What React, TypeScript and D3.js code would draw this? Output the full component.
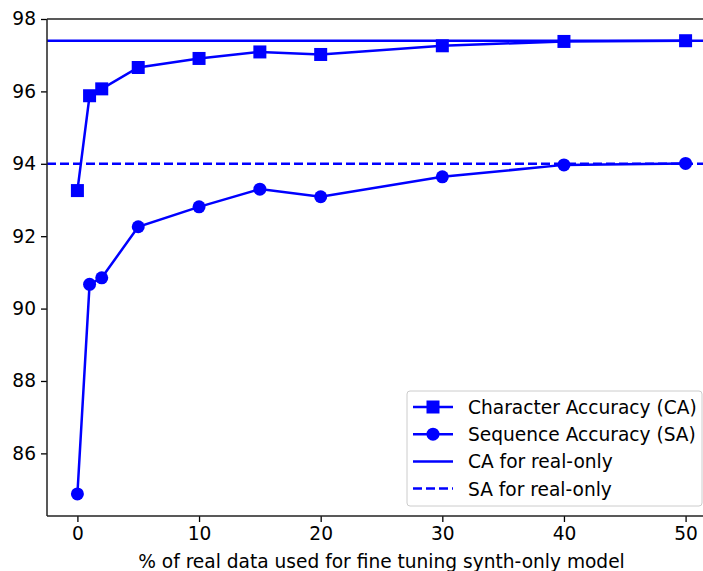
import React, { useEffect, useRef } from 'react';
import * as d3 from 'd3';

const xValues = [0, 1, 2, 5, 10, 15, 20, 30, 40, 50];
const caValues = [93.26, 95.88, 96.07, 96.66, 96.91, 97.09, 97.02, 97.26, 97.38, 97.4];
const saValues = [84.88, 90.67, 90.85, 92.26, 92.81, 93.3, 93.09, 93.64, 93.97, 94.01];
const caRealOnly = 97.4;
const saRealOnly = 94.0;
const xTicks = [0, 10, 20, 30, 40, 50];
const yTicks = [86, 88, 90, 92, 94, 96, 98];
const legendLabels = [
  'Character Accuracy (CA)',
  'Sequence Accuracy (SA)',
  'CA for real-only',
  'SA for real-only',
];

const App = () => {
  const svgRef = useRef<SVGSVGElement>(null);

  useEffect(() => {
    const width = 703;
    const height = 571;
    const margin = { top: 19, right: -13, bottom: 55, left: 47 };
    const blue = '#0000ff';
    const font = 'DejaVu Sans, sans-serif';
    const fs = 18.6;

    const root = d3.select(svgRef.current);
    root.selectAll('*').remove();
    root.attr('width', width).attr('height', height);

    const innerW = width - margin.left - margin.right;
    const innerH = height - margin.top - margin.bottom;

    const x = d3.scaleLinear().domain([-2.5, 52.5]).range([0, innerW]);
    const y = d3.scaleLinear().domain([84.27, 98]).range([innerH, 0]);

    const svg = root.append('g').attr('transform', `translate(${margin.left},${margin.top})`);

    // reference lines
    svg.append('line')
      .attr('x1', 0).attr('x2', innerW)
      .attr('y1', y(caRealOnly)).attr('y2', y(caRealOnly))
      .attr('stroke', blue).attr('stroke-width', 2.5);
    svg.append('line')
      .attr('x1', 0).attr('x2', innerW)
      .attr('y1', y(saRealOnly)).attr('y2', y(saRealOnly))
      .attr('stroke', blue).attr('stroke-width', 2.5)
      .attr('stroke-dasharray', '9,4');

    const line = d3.line<number>()
      .x((_, i) => x(xValues[i]))
      .y(d => y(d));

    // CA series
    svg.append('path')
      .attr('d', line(caValues))
      .attr('fill', 'none').attr('stroke', blue).attr('stroke-width', 2.5);
    svg.append('g')
      .selectAll('rect')
      .data(caValues)
      .enter()
      .append('rect')
      .attr('x', (_, i) => x(xValues[i]) - 6.5)
      .attr('y', d => y(d) - 6.5)
      .attr('width', 13).attr('height', 13)
      .attr('fill', blue);

    // SA series
    svg.append('path')
      .attr('d', line(saValues))
      .attr('fill', 'none').attr('stroke', blue).attr('stroke-width', 2.5);
    svg.append('g')
      .selectAll('circle')
      .data(saValues)
      .enter()
      .append('circle')
      .attr('cx', (_, i) => x(xValues[i]))
      .attr('cy', d => y(d))
      .attr('r', 6.5)
      .attr('fill', blue);

    // axes
    const xAxis = svg.append('g')
      .attr('transform', `translate(0,${innerH})`)
      .call(d3.axisBottom(x).tickValues(xTicks).tickSize(6).tickPadding(5));
    const yAxis = svg.append('g')
      .call(d3.axisLeft(y).tickValues(yTicks).tickSize(6).tickPadding(5));
    [xAxis, yAxis].forEach(a => {
      a.select('.domain').remove();
      a.selectAll('line').attr('stroke', '#000').attr('stroke-width', 1.3);
      a.selectAll('text').attr('font-family', font).attr('font-size', fs).attr('fill', '#000');
    });

    // spines
    const spine = svg.append('g').attr('stroke', '#222').attr('stroke-width', 1.5);
    spine.append('line').attr('x1', 0).attr('x2', 0).attr('y1', 0).attr('y2', innerH);
    spine.append('line').attr('x1', 0).attr('x2', innerW).attr('y1', innerH).attr('y2', innerH);
    spine.append('line').attr('x1', 0).attr('x2', innerW).attr('y1', 0).attr('y2', 0);
    spine.append('line').attr('x1', innerW).attr('x2', innerW).attr('y1', 0).attr('y2', innerH);

    // x label
    svg.append('text')
      .attr('x', innerW / 2)
      .attr('y', innerH + 52)
      .attr('text-anchor', 'middle')
      .attr('font-family', font).attr('font-size', fs)
      .text('% of real data used for fine tuning synth-only model');

    // legend
    const lg = root.append('g').attr('transform', 'translate(407,391)');
    lg.append('rect')
      .attr('x', 0).attr('y', 0).attr('width', 295).attr('height', 115)
      .attr('rx', 3).attr('fill', '#fff').attr('fill-opacity', 0.8)
      .attr('stroke', '#cccccc').attr('stroke-width', 1);
    legendLabels.forEach((label, i) => {
      const ry = 16 + i * 27.2;
      const row = lg.append('g');
      row.append('line')
        .attr('x1', 6).attr('x2', 46).attr('y1', ry).attr('y2', ry)
        .attr('stroke', blue).attr('stroke-width', 2.5)
        .attr('stroke-dasharray', i === 3 ? '9,4' : null);
      if (i === 0) {
        row.append('rect').attr('x', 19.5).attr('y', ry - 6.5).attr('width', 13).attr('height', 13).attr('fill', blue);
      } else if (i === 1) {
        row.append('circle').attr('cx', 26).attr('cy', ry).attr('r', 6.5).attr('fill', blue);
      }
      row.append('text')
        .attr('x', 61).attr('y', ry + 7)
        .attr('font-family', font).attr('font-size', fs)
        .text(label);
    });
  }, []);

  return (
    <svg ref={svgRef} style={{ position: 'absolute', left: 0, top: 0, display: 'block' }}></svg>
  );
};

export default App;
